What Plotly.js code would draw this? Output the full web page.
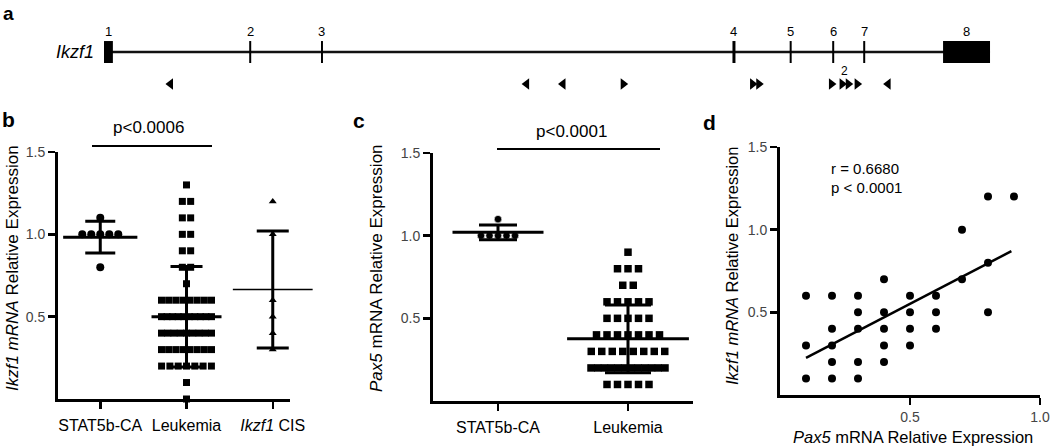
<!DOCTYPE html>
<html><head><meta charset="utf-8">
<script src="https://cdn.plot.ly/plotly-3.0.1.min.js"></script>
<style>html,body{margin:0;padding:0;background:#fff}#chart{width:1050px;height:447px}</style>
</head><body><div id="chart"></div>
<script>
// ---------- Panel a : Ikzf1 gene map (relative position along gene, 0-100) ----------
const exonLabels = ['1','2','3','4','5','6','7','8'];
const exonStart  = [0, 16.5, 24.6, 71.1, 77.5, 82.3, 85.8, 94.7];
const exonEnd    = [1.0, 16.5, 24.6, 71.1, 77.5, 82.3, 85.8, 100];
const primerPos  = [7.5, 47.7, 51.8, 58.6, 73.2, 73.9, 82.1, 83.3, 84.0, 85.0, 88.5];
const primerDir  = ['L','L','L','R','R','R','R','R','R','R','L'];

// ---------- Panel b : Ikzf1 mRNA relative expression ----------
const bCategories = ['STAT5b-CA', 'Leukemia', '<i>Ikzf1</i> CIS'];
const bStat = [1.1, 1.0, 1.0, 1.0, 1.0, 1.0, 0.8];
const bLeuk = [1.3, 1.2, 1.2, 1.1, 1.1, 1.0, 1.0, 0.9, 0.9, 0.8, 0.8, 0.7,
  0.6, 0.6, 0.6, 0.6, 0.6, 0.6, 0.6, 0.6,
  0.5, 0.5, 0.5, 0.5, 0.5, 0.5, 0.5, 0.5, 0.5, 0.5,
  0.4, 0.4, 0.4, 0.4, 0.4, 0.4, 0.4, 0.4, 0.4,
  0.3, 0.3, 0.3, 0.3, 0.3, 0.3, 0.3, 0.3,
  0.2, 0.2, 0.2, 0.2, 0.2, 0.2, 0.2,
  0.1, 0.0];
const bCis  = [1.2, 1.0, 0.6, 0.5, 0.4, 0.3];
const bMean = [0.983, 0.5, 0.665];
const bSD   = [0.097, 0.305, 0.355];

// ---------- Panel c : Pax5 mRNA relative expression ----------
const cCategories = ['STAT5b-CA', 'Leukemia'];
const cStat = [1.1, 1.0, 1.0, 1.0, 1.0, 1.0];
const cLeuk = [0.9, 0.8, 0.8, 0.8, 0.7, 0.7,
  0.6, 0.6, 0.6, 0.6, 0.6,
  0.5, 0.5, 0.5, 0.5, 0.5,
  0.4, 0.4, 0.4, 0.4, 0.4, 0.4, 0.4,
  0.3, 0.3, 0.3, 0.3, 0.3, 0.3, 0.3, 0.3,
  0.2, 0.2, 0.2, 0.2, 0.2, 0.2, 0.2, 0.2, 0.2, 0.2, 0.2, 0.2,
  0.1, 0.1, 0.1, 0.1, 0.1];
const cMean = [1.02, 0.376];
const cSD   = [0.045, 0.205];

// ---------- Panel d : Pax5 vs Ikzf1 ----------
const dPax5  = [0.1, 0.1, 0.1, 0.2, 0.2, 0.2, 0.2, 0.2, 0.3, 0.3, 0.3, 0.3, 0.3,
  0.4, 0.4, 0.4, 0.4, 0.4, 0.5, 0.5, 0.5, 0.5, 0.6, 0.6, 0.6, 0.7, 0.7, 0.8, 0.8, 0.8, 0.9];
const dIkzf1 = [0.6, 0.3, 0.1, 0.6, 0.4, 0.3, 0.2, 0.1, 0.6, 0.5, 0.4, 0.2, 0.1,
  0.7, 0.5, 0.4, 0.3, 0.2, 0.6, 0.5, 0.4, 0.3, 0.6, 0.5, 0.4, 1.0, 0.7, 1.2, 0.8, 0.5, 1.2];
const dFitX = [0.1, 0.89];
const dFitY = [0.225, 0.87];

// ---------- helpers ----------
const FONT = 'Arial, "Liberation Sans", sans-serif';
const NARROW = '"Liberation Sans Narrow", "Arial Narrow", Arial, "Liberation Sans", sans-serif';
const W = 1050, H = 447;
const px = x => x / W, py = y => 1 - y / H;

function swarm(values, center, spacingPx, maxSpanPx, pxPerUnit) {
  const groups = {};
  values.forEach((v, i) => { const k = v.toFixed(3); (groups[k] = groups[k] || []).push(i); });
  const xs = new Array(values.length);
  Object.values(groups).forEach(idx => {
    const n = idx.length;
    let s = spacingPx;
    if (n > 1 && (n - 1) * s > maxSpanPx) s = maxSpanPx / (n - 1);
    idx.forEach((vi, j) => { xs[vi] = center + (j - (n - 1) / 2) * s / pxPerUnit; });
  });
  return xs;
}

const bPPU = 86.2, cPPU = 130;
const traces = [];

// panel b points
traces.push({x: swarm(bStat, 0, 9, 40, bPPU), y: bStat, xaxis: 'x', yaxis: 'y', type: 'scatter', mode: 'markers',
  cliponaxis: false, marker: {symbol: 'circle', size: 8, color: '#000'}, hoverinfo: 'y'});
traces.push({x: swarm(bLeuk, 1, 8.3, 50, bPPU), y: bLeuk, xaxis: 'x', yaxis: 'y', type: 'scatter', mode: 'markers',
  cliponaxis: false, marker: {symbol: 'square', size: 7, color: '#000'}, hoverinfo: 'y'});
traces.push({x: swarm(bCis, 2, 7, 40, bPPU), y: bCis, xaxis: 'x', yaxis: 'y', type: 'scatter', mode: 'markers',
  cliponaxis: false, marker: {symbol: 'triangle-up', size: 7, color: '#000'}, hoverinfo: 'y'});
// panel b mean +/- SD
const bMeanW = [53, 50, 57], bMeanLW = [3, 3, 1.5], bCapW = [15, 16, 16];
[0, 1, 2].forEach(i => {
  traces.push({x: [i], y: [bMean[i]], xaxis: 'x', yaxis: 'y', type: 'scatter', mode: 'markers', cliponaxis: false,
    marker: {symbol: 'line-ew', size: bMeanW[i], color: '#000', line: {color: '#000', width: bMeanLW[i]}},
    error_y: {type: 'data', array: [bSD[i]], visible: true, color: '#000', thickness: 3, width: bCapW[i]}, hoverinfo: 'y'});
});

// panel c points
traces.push({x: swarm(cStat, 0, 8.5, 40, cPPU), y: cStat, xaxis: 'x2', yaxis: 'y2', type: 'scatter', mode: 'markers',
  cliponaxis: false, marker: {symbol: 'circle', size: 7.5, color: '#000', line: {color: '#fff', width: 0.6}}, hoverinfo: 'y'});
traces.push({x: swarm(cLeuk, 1, 10.5, 74, cPPU), y: cLeuk, xaxis: 'x2', yaxis: 'y2', type: 'scatter', mode: 'markers',
  cliponaxis: false, marker: {symbol: 'square', size: 7.5, color: '#000'}, hoverinfo: 'y'});
const cMeanW = [65, 87], cCapW = [19, 23];
[0, 1].forEach(i => {
  traces.push({x: [i], y: [cMean[i]], xaxis: 'x2', yaxis: 'y2', type: 'scatter', mode: 'markers', cliponaxis: false,
    marker: {symbol: 'line-ew', size: cMeanW[i], color: '#000', line: {color: '#000', width: 3}},
    error_y: {type: 'data', array: [cSD[i]], visible: true, color: '#000', thickness: 3, width: cCapW[i]}, hoverinfo: 'y'});
});

// panel d
traces.push({x: dPax5, y: dIkzf1, xaxis: 'x3', yaxis: 'y3', type: 'scatter', mode: 'markers', cliponaxis: false,
  marker: {symbol: 'circle', size: 8, color: '#000'}});
traces.push({x: dFitX, y: dFitY, xaxis: 'x3', yaxis: 'y3', type: 'scatter', mode: 'lines',
  line: {color: '#000', width: 2.5}, hoverinfo: 'skip'});

// panel a primers
traces.push({x: primerPos, y: primerPos.map(() => -2.9), xaxis: 'x4', yaxis: 'y4', type: 'scatter', mode: 'markers',
  cliponaxis: false, marker: {symbol: primerDir.map(d => d === 'L' ? 'triangle-left' : 'triangle-right'), size: 10, color: '#000'},
  hoverinfo: 'x'});

// shapes for gene map
const shapes = [];
shapes.push({type: 'line', xref: 'x4', yref: 'y4', x0: exonStart[0], x1: exonEnd[exonEnd.length - 1], y0: 0, y1: 0,
  line: {color: '#111', width: 2.5}});
exonStart.forEach((s, i) => {
  const e = exonEnd[i];
  if (e > s) {
    shapes.push({type: 'rect', xref: 'x4', yref: 'y4', x0: s, x1: e, y0: -1, y1: 1, fillcolor: '#000', line: {width: 0}});
  } else {
    shapes.push({type: 'line', xref: 'x4', yref: 'y4', x0: s, x1: s, y0: -1, y1: 1,
      line: {color: '#000', width: i === 3 ? 3 : 2}});
  }
});
// significance lines
shapes.push({type: 'line', xref: 'paper', yref: 'paper', x0: px(92), x1: px(212), y0: py(146), y1: py(146), line: {color: '#000', width: 2}});
shapes.push({type: 'line', xref: 'paper', yref: 'paper', x0: px(497), x1: px(660), y0: py(149), y1: py(149), line: {color: '#000', width: 2}});

const annotations = [];
exonLabels.forEach((t, i) => {
  annotations.push({xref: 'x4', yref: 'y4', x: (exonStart[i] + exonEnd[i]) / 2, y: 1.85, text: t, showarrow: false,
    font: {family: NARROW, size: 13, color: '#000'}, xanchor: 'center', yanchor: 'middle'});
});
annotations.push({xref: 'x4', yref: 'y4', x: -0.9, y: 0, text: '<i>Ikzf1</i>', showarrow: false,
  font: {family: NARROW, size: 18, color: '#000'}, xanchor: 'right', yanchor: 'middle'});
annotations.push({xref: 'x4', yref: 'y4', x: 83.6, y: -1.75, text: '2', showarrow: false,
  font: {family: NARROW, size: 12, color: '#000'}, xanchor: 'center', yanchor: 'middle'});

function pa(text, x, y, size, opts) {
  annotations.push(Object.assign({xref: 'paper', yref: 'paper', x: px(x), y: py(y), text: text, showarrow: false,
    font: {family: FONT, size: size, color: '#000'}, xanchor: 'center', yanchor: 'middle'}, opts || {}));
}
pa('<b>a</b>', 1, 1, 19, {xanchor: 'left', yanchor: 'top'});
pa('<b>b</b>', 0, 119, 21, {xanchor: 'left'});
pa('<b>c</b>', 351, 121, 21, {xanchor: 'left'});
pa('<b>d</b>', 701, 123, 21, {xanchor: 'left'});
pa('p<0.0006', 148, 127, 17);
pa('p<0.0001', 571, 131, 17);
pa('r = 0.6680', 829, 169, 15, {xanchor: 'left'});
pa('p < 0.0001', 829, 187, 15, {xanchor: 'left'});
pa('<i>Ikzf1 mRNA</i> Relative Expression', 12, 268, 17, {textangle: -90});
pa('<i>Pax5</i> mRNA Relative Expression', 376, 268, 17, {textangle: -90});
pa('<i>Ikzf1 mRNA</i> Relative Expression', 732, 266, 16.5, {textangle: -90});
pa('<i>Pax5</i> mRNA Relative Expression', 913, 437, 16.5);

const axBase = {showline: true, linewidth: 3, linecolor: '#000', ticks: 'outside', ticklen: 7, tickwidth: 2.5,
  tickcolor: '#000', showgrid: false, zeroline: false, fixedrange: true};
const yTick = Object.assign({}, axBase, {range: [0, 1.5], tickvals: [0.5, 1.0, 1.5], ticktext: ['0.5', '1.0', '1.5'],
  tickfont: {family: FONT, size: 14, color: '#444'}});

const layout = {
  width: W, height: H, margin: {l: 0, r: 0, t: 0, b: 0}, paper_bgcolor: '#fff', plot_bgcolor: '#fff',
  showlegend: false, font: {family: FONT, color: '#000'},
  xaxis: Object.assign({}, axBase, {domain: [px(58), px(290)], range: [-0.49, 2.2], anchor: 'y',
    tickvals: [0, 1, 2], ticktext: bCategories, tickfont: {family: FONT, size: 16, color: '#000'}, ticklabelstandoff: 3}),
  yaxis: Object.assign({}, yTick, {domain: [py(399), py(152)], anchor: 'x'}),
  xaxis2: Object.assign({}, axBase, {domain: [px(433), px(693)], range: [-0.5, 1.5], anchor: 'y2',
    tickvals: [0, 1], ticktext: cCategories, tickfont: {family: FONT, size: 16, color: '#000'}, ticklabelstandoff: 3}),
  yaxis2: Object.assign({}, yTick, {domain: [py(401), py(153)], anchor: 'x2'}),
  xaxis3: Object.assign({}, axBase, {domain: [px(780), px(1040)], range: [0, 1.0], anchor: 'y3',
    tickvals: [0.5, 1.0], ticktext: ['0.5', '1.0'], tickfont: {family: FONT, size: 14, color: '#444'}}),
  yaxis3: Object.assign({}, yTick, {domain: [py(395), py(147)], anchor: 'x3'}),
  xaxis4: {domain: [0, 1], range: [-11.74, 106.77], visible: false, fixedrange: true, anchor: 'y4'},
  yaxis4: {domain: [py(110), 1], range: [-5.27, 4.73], visible: false, fixedrange: true, anchor: 'x4'},
  shapes: shapes, annotations: annotations
};

Plotly.newPlot('chart', traces, layout, {displayModeBar: false, staticPlot: true});
</script></body></html>
